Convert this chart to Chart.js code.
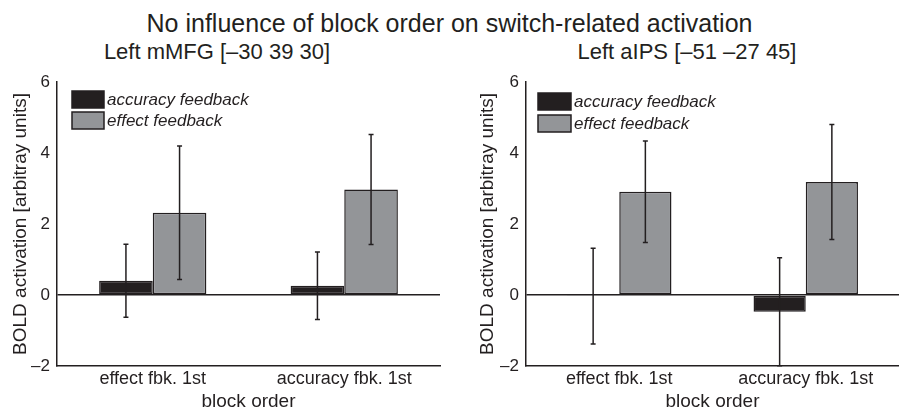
<!DOCTYPE html>
<html>
<head>
<meta charset="utf-8">
<script src="https://cdn.jsdelivr.net/npm/chart.js@4.4.1/dist/chart.umd.min.js"></script>
<style>
    body {
        margin: 0;
        width: 899px;
        height: 411px;
        position: relative;
        background: #fff;
        font-family: 'Liberation Sans', Arial, sans-serif;
        color: #231f20;
        overflow: hidden;
    }
    .title {
        position: absolute;
        left: 0;
        top: 8px;
        width: 899px;
        text-align: center;
        font-size: 25px;
        line-height: 30px;
    }
    .subtitle {
        position: absolute;
        top: 39px;
        font-size: 22px;
        line-height: 26px;
        text-align: center;
    }
    .panel {
        position: absolute;
        top: 60px;
        height: 351px;
    }
</style>
</head>
<body>
<div class="title">No influence of block order on switch-related activation</div>
<div class="subtitle" style="left:17px;width:400px;">Left mMFG [–30 39 30]</div>
<div class="subtitle" style="left:487px;width:400px;">Left aIPS [–51 –27 45]</div>
<div class="panel" style="left:0;width:449px;"><canvas id="mfgChart"></canvas></div>
<div class="panel" style="left:449px;width:450px;"><canvas id="ipsChart"></canvas></div>

<script>
// Data
const categories = ['effect fbk. 1st', 'accuracy fbk. 1st'];
const seriesNames = ['accuracy feedback', 'effect feedback'];

const mfgAccuracy = [0.40, 0.26];
const mfgAccuracyErr = [1.03, 0.95];
const mfgEffect = [2.32, 2.97];
const mfgEffectErr = [1.88, 1.55];

const ipsAccuracy = [-0.03, -0.47];
const ipsAccuracyErr = [1.35, 1.52];
const ipsEffect = [2.91, 3.18];
const ipsEffectErr = [1.43, 1.62];

const yTickValues = [-2, 0, 2, 4, 6];

const ink = '#231f20';
const gray = '#939598';
const fontFamily = "'Liberation Sans', Arial, sans-serif";

// Error bars drawn through the y scale
const errorBars = {
    id: 'errorBars',
    afterDatasetsDraw(chart) {
        const ctx = chart.ctx;
        const y = chart.scales.y;
        ctx.save();
        ctx.strokeStyle = ink;
        ctx.lineWidth = 1.5;
        chart.data.datasets.forEach((ds, i) => {
            const meta = chart.getDatasetMeta(i);
            meta.data.forEach((bar, j) => {
                const v = ds.data[j];
                const e = ds.errors[j];
                const top = y.getPixelForValue(v + e);
                const bottom = y.getPixelForValue(v - e);
                ctx.beginPath();
                ctx.moveTo(bar.x, top);
                ctx.lineTo(bar.x, bottom);
                ctx.moveTo(bar.x - 2.5, top);
                ctx.lineTo(bar.x + 2.5, top);
                ctx.moveTo(bar.x - 2.5, bottom);
                ctx.lineTo(bar.x + 2.5, bottom);
                ctx.stroke();
            });
        });
        ctx.restore();
    }
};

// Legend boxed inside the plot, top left
const insideLegend = {
    id: 'insideLegend',
    afterDraw(chart, args, opts) {
        const ctx = chart.ctx;
        const area = chart.chartArea;
        ctx.save();
        ctx.font = 'italic 17px ' + fontFamily;
        ctx.textBaseline = 'middle';
        chart.data.datasets.forEach((ds, i) => {
            const bx = area.left + opts.dx;
            const by = area.top + opts.dy + i * opts.rowGap;
            ctx.fillStyle = ds.backgroundColor;
            ctx.fillRect(bx, by, opts.boxW, opts.boxH);
            ctx.strokeStyle = ink;
            ctx.lineWidth = 1.5;
            ctx.strokeRect(bx, by, opts.boxW, opts.boxH);
            ctx.fillStyle = ink;
            ctx.fillText(ds.label, bx + opts.boxW + 3, by + opts.boxH / 2 + 1);
        });
        ctx.restore();
    }
};

function makeChart(id, accuracy, accuracyErr, effect, effectErr, layout) {
    return new Chart(document.getElementById(id), {
        type: 'bar',
        data: {
            labels: categories,
            datasets: [{
                label: seriesNames[0],
                data: accuracy,
                errors: accuracyErr,
                backgroundColor: ink,
                borderColor: ink,
                borderWidth: 1.5,
                borderSkipped: false
            }, {
                label: seriesNames[1],
                data: effect,
                errors: effectErr,
                backgroundColor: gray,
                borderColor: ink,
                borderWidth: 1.5,
                borderSkipped: false
            }]
        },
        options: {
            responsive: true,
            maintainAspectRatio: false,
            animation: false,
            layout: { padding: layout.padding },
            categoryPercentage: 0.56,
            barPercentage: 1.0,
            plugins: {
                legend: { display: false },
                tooltip: { enabled: false },
                insideLegend: layout.legend
            },
            scales: {
                x: {
                    grid: { display: false, drawTicks: false },
                    border: { display: true, color: ink, width: 1.5 },
                    ticks: {
                        color: ink,
                        font: { family: fontFamily, size: 18 },
                        padding: 2,
                        maxRotation: 0
                    },
                    title: {
                        display: true,
                        text: 'block order',
                        color: ink,
                        font: { family: fontFamily, size: 19, lineHeight: 1 },
                        padding: { top: 0, bottom: 0 }
                    },
                    afterFit(scale) { scale.height = 45; }
                },
                y: {
                    min: -2,
                    max: 6,
                    afterBuildTicks(scale) {
                        scale.ticks = yTickValues.map(v => ({ value: v }));
                    },
                    grid: {
                        drawTicks: false,
                        color: c => (c.tick && c.tick.value === 0 ? ink : 'rgba(0,0,0,0)'),
                        lineWidth: 1.5
                    },
                    border: { display: true, color: ink, width: 1.5 },
                    ticks: {
                        color: ink,
                        font: { family: fontFamily, size: 17 },
                        padding: 7,
                        callback: v => (v < 0 ? '–' + Math.abs(v) : String(v))
                    },
                    title: {
                        display: true,
                        text: 'BOLD activation [arbitray units]',
                        color: ink,
                        font: { family: fontFamily, size: 19 },
                        padding: { top: 9, bottom: 0 }
                    },
                    afterFit(scale) { scale.width = layout.yWidth; }
                }
            }
        },
        plugins: [errorBars, insideLegend]
    });
}

makeChart('mfgChart', mfgAccuracy, mfgAccuracyErr, mfgEffect, mfgEffectErr, {
    padding: { top: 22, right: 9, bottom: 0, left: 0 },
    yWidth: 57,
    legend: { dx: 15, dy: 9, rowGap: 21, boxW: 32, boxH: 17 }
});

makeChart('ipsChart', ipsAccuracy, ipsAccuracyErr, ipsEffect, ipsEffectErr, {
    padding: { top: 22, right: 0, bottom: 0, left: 18 },
    yWidth: 59,
    legend: { dx: 12, dy: 11, rowGap: 22, boxW: 33, boxH: 17 }
});
</script>
</body>
</html>
